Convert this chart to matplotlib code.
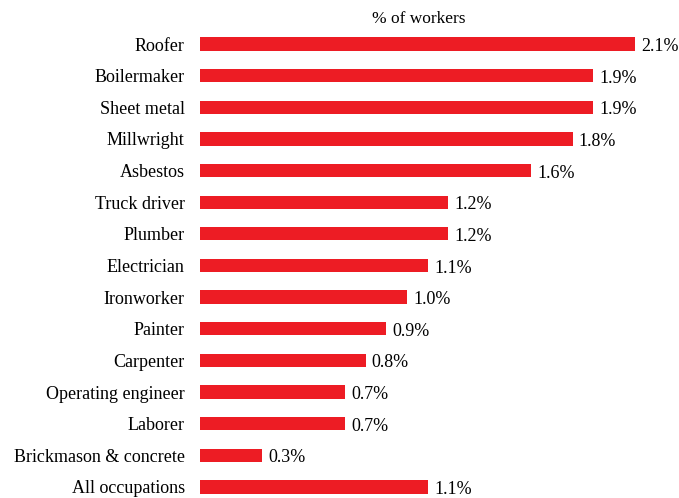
import matplotlib.pyplot as plt

plt.rcParams['font.family'] = ['Liberation Serif', 'DejaVu Serif']

occupations = ['Roofer', 'Boilermaker', 'Sheet metal', 'Millwright', 'Asbestos',
               'Truck driver', 'Plumber', 'Electrician', 'Ironworker', 'Painter',
               'Carpenter', 'Operating engineer', 'Laborer',
               'Brickmason & concrete', 'All occupations']
pct = [2.1, 1.9, 1.9, 1.8, 1.6, 1.2, 1.2, 1.1, 1.0, 0.9, 0.8, 0.7, 0.7, 0.3, 1.1]

W, H = 679, 498
fig = plt.figure(figsize=(W / 100, H / 100), dpi=100)

# axes placed in pixel terms: x=0 at px 200, 207 px per unit
x0_px = 200
px_per_unit = 207
xmax = 2.31
top_px, step_px = 44, 31.64
ymin, ymax = -0.5, 14.3
ax_top = top_px + ymin * step_px
ax_bot = top_px + ymax * step_px
ax = fig.add_axes([x0_px / W, 1 - ax_bot / H,
                   xmax * px_per_unit / W, (ax_bot - ax_top) / H])

y = list(range(len(occupations)))
ax.barh(y, pct, height=0.42, color='#ED1C24')
ax.set_xlim(0, xmax)
ax.set_ylim(ymax, ymin)

for yi, v in zip(y, pct):
    ax.text(v + 0.03, yi + 0.08, f'{v:.1f}%', va='center', ha='left', fontsize=13)

ax.set_yticks(y)
ax.set_yticklabels(occupations, fontsize=13)
ax.tick_params(axis='y', length=0, pad=11)
ax.set_xticks([])
for s in ax.spines.values():
    s.set_visible(False)

fig.text(419 / W, 1 - 19 / H, '% of workers', ha='center', va='center', fontsize=12.5)

fig.savefig('out.png', dpi=100)
